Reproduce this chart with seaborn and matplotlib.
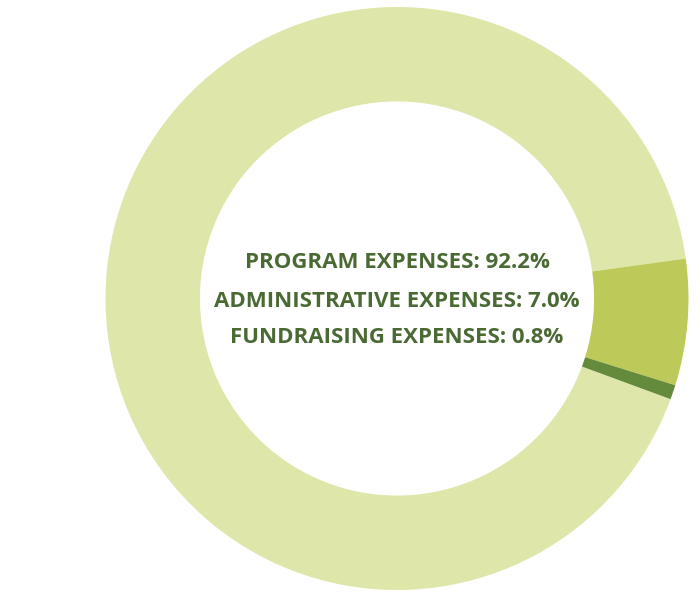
import matplotlib
matplotlib.use("Agg")
import matplotlib.pyplot as plt
import seaborn as sns

categories = ["PROGRAM EXPENSES", "ADMINISTRATIVE EXPENSES", "FUNDRAISING EXPENSES"]
shares = [92.2, 7.0, 0.8]
slice_colors = ["#dfe6aa", "#bdca59", "#638b3b"]
text_color = "#4a6a34"

sns.set_theme(style="white")
plt.rcParams["font.family"] = ["Open Sans", "DejaVu Sans"]

fig = plt.figure(figsize=(7, 6), dpi=100)
fig.patch.set_facecolor("white")
ax = fig.add_axes([105.5 / 700, 10 / 600, 583 / 700, 583 / 600])

ax.pie(
    shares,
    colors=slice_colors,
    startangle=-20.2,
    counterclock=False,
    radius=1,
    wedgeprops=dict(width=0.324, linewidth=0),
)
ax.set_xlim(-1, 1)
ax.set_ylim(-1, 1)
ax.set_aspect("equal")
ax.axis("off")

# center labels, baselines picked to sit like the reference
baselines = [0.1046, -0.0292, -0.1527]
for name, val, yb in zip(categories, shares, baselines):
    ax.text(0, yb, f"{name}: {val:.1f}%", ha="center", va="baseline",
            fontsize=16, fontweight="bold", color=text_color)

plt.savefig("out.png", dpi=100, facecolor="white")
